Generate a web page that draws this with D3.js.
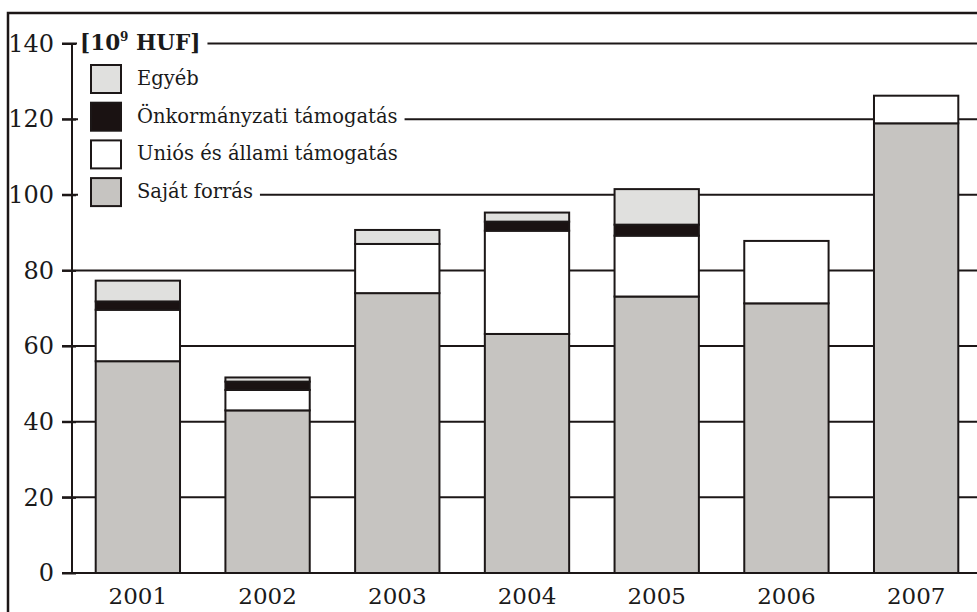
<!DOCTYPE html>
<html>
<head>
<meta charset="utf-8">
<script src="https://cdn.jsdelivr.net/npm/d3@7"></script>
<style>
  body { margin: 0; background: #fff; }
  svg { display: block; }
  text { font-family: "DejaVu Serif", "Liberation Serif", serif; fill: #1a1a1a; }
</style>
</head>
<body>
<div id="chart"></div>
<script>
// chart data
var years = ["2001", "2002", "2003", "2004", "2005", "2006", "2007"];
var sajat = [56, 43, 74, 63.2, 73.1, 71.3, 118.9];
var unios = [13.6, 5.4, 13, 27.3, 16.1, 16.5, 7.3];
var onkorm = [2.2, 2.2, 0, 2.4, 2.9, 0, 0];
var egyeb = [5.5, 1.1, 3.7, 2.4, 9.4, 0, 0];
var seriesKeys = ["sajat", "unios", "onkorm", "egyeb"];
var seriesNames = ["Saját forrás", "Uniós és állami támogatás", "Önkormányzati támogatás", "Egyéb"];
var yTicks = [0, 20, 40, 60, 80, 100, 120, 140];

var svgWidth = 977;
var svgHeight = 612;
var ink = "#1c1717";
var colors = { sajat: "#c6c4c1", unios: "#ffffff", onkorm: "#1a1212", egyeb: "#e0e0de" };

var svg = d3.select("#chart")
  .append("svg")
  .attr("width", svgWidth)
  .attr("height", svgHeight);

// frame (left + top only)
svg.append("path")
  .attr("d", "M8," + svgHeight + "V13H" + svgWidth)
  .attr("fill", "none")
  .attr("stroke", ink)
  .attr("stroke-width", 2.5);

var table = years.map(function(y, i) {
  return { year: y, sajat: sajat[i], unios: unios[i], onkorm: onkorm[i], egyeb: egyeb[i] };
});

var x = d3.scaleBand()
  .domain(years)
  .range([73, 981])
  .paddingInner(0.35)
  .paddingOuter(0.175);

var y = d3.scaleLinear()
  .domain([0, 140])
  .range([573, 43.5]);

// gridlines
svg.append("g")
  .selectAll("line")
  .data(yTicks)
  .enter()
  .append("line")
  .attr("x1", 62)
  .attr("x2", svgWidth)
  .attr("y1", d => y(d))
  .attr("y2", d => y(d))
  .attr("stroke", ink)
  .attr("stroke-width", 2);

// y axis
var leftAxis = d3.axisLeft(y).tickValues(yTicks).tickSize(10).tickPadding(8);
var axisG = svg.append("g")
  .attr("transform", "translate(72,0)")
  .call(leftAxis);
axisG.select(".domain").remove();
axisG.selectAll(".tick line").attr("stroke", ink).attr("stroke-width", 2).attr("x2", -10).attr("x1", 4);
axisG.selectAll(".tick text")
  .style("font-family", "'DejaVu Serif', serif")
  .style("font-size", "24px")
  .attr("fill", ink)
  .attr("x", -18);
svg.append("line")
  .attr("x1", 72).attr("x2", 72)
  .attr("y1", y(140)).attr("y2", y(0))
  .attr("stroke", ink)
  .attr("stroke-width", 2);

// unit label with white mask behind it
var unitBg = svg.append("rect").attr("fill", "#fff");
var unit = svg.append("text")
  .attr("x", 80)
  .attr("y", 50)
  .style("font-size", "21.5px")
  .style("font-weight", "bold");
unit.append("tspan").text("[10");
unit.append("tspan").attr("dy", -9).style("font-size", "12px").text("9");
unit.append("tspan").attr("dy", 9).text(" HUF]");
var unitLen = unit.node().getComputedTextLength();
unitBg.attr("x", 77).attr("y", 28)
  .attr("width", unitLen + 10).attr("height", 26);

// legend
var legendOrder = [3, 2, 1, 0];
var legend = svg.append("g");
legendOrder.forEach(function(k, i) {
  var top = 65 + i * 37.7;
  var row = legend.append("g");
  var bg = row.append("rect").attr("fill", "#fff");
  row.append("rect")
    .attr("x", 91).attr("y", top)
    .attr("width", 30).attr("height", 28)
    .attr("fill", colors[seriesKeys[k]])
    .attr("stroke", ink)
    .attr("stroke-width", 2);
  var t = row.append("text")
    .attr("x", 137)
    .attr("y", top + 20)
    .style("font-size", "19.5px")
    .text(seriesNames[k]);
  var len = t.node().getComputedTextLength();
  bg.attr("x", 78).attr("y", top - 5).attr("width", 137 + len + 7 - 78).attr("height", 37);
});

// stacked bars
var stacked = d3.stack().keys(seriesKeys)(table);
var barsG = svg.append("g");
stacked.forEach(function(layer) {
  barsG.selectAll(null)
    .data(layer.filter(d => d[1] - d[0] > 0))
    .enter()
    .append("rect")
    .attr("x", d => x(d.data.year))
    .attr("width", x.bandwidth())
    .attr("y", d => y(d[1]))
    .attr("height", d => y(d[0]) - y(d[1]))
    .attr("fill", colors[layer.key])
    .attr("stroke", ink)
    .attr("stroke-width", 2);
});

// baseline redrawn over bars
svg.append("line")
  .attr("x1", 62).attr("x2", svgWidth)
  .attr("y1", y(0)).attr("y2", y(0))
  .attr("stroke", ink)
  .attr("stroke-width", 2);

// x labels
var bottomAxis = d3.axisBottom(x).tickSize(0).tickPadding(0);
var xG = svg.append("g")
  .attr("transform", "translate(0," + y(0) + ")")
  .call(bottomAxis);
xG.select(".domain").remove();
xG.selectAll(".tick text")
  .style("font-family", "'DejaVu Serif', serif")
  .style("font-size", "23px")
  .attr("fill", ink)
  .attr("dy", null)
  .attr("y", 31);
</script>
</body>
</html>
